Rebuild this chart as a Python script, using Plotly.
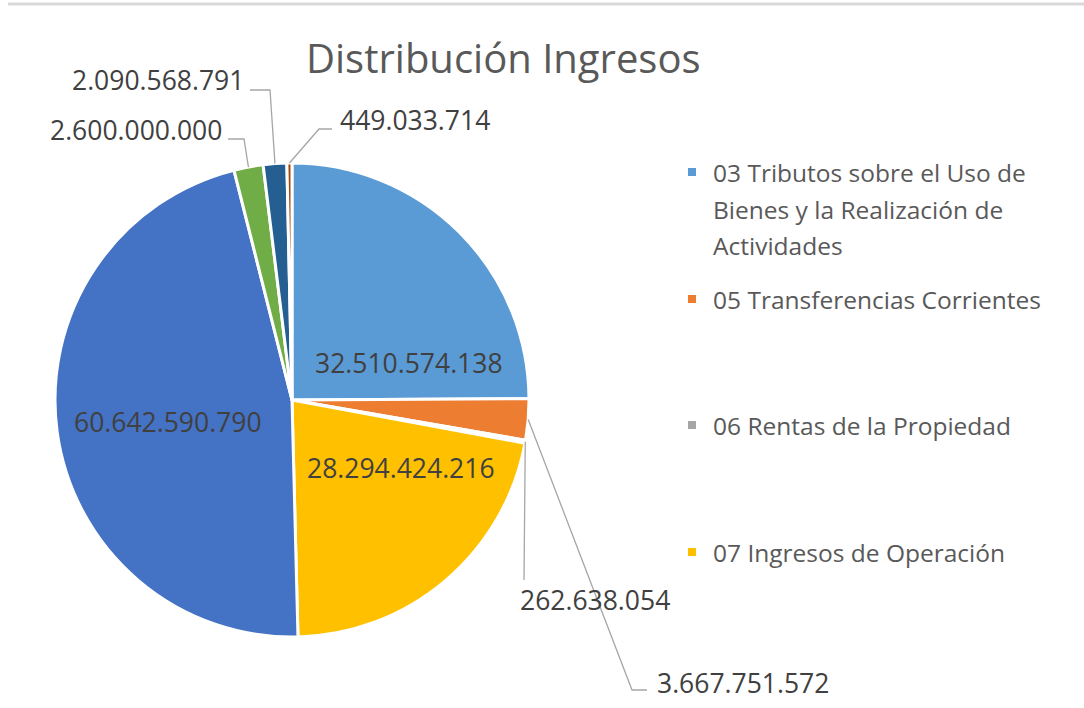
import math
import plotly.graph_objects as go

# ---------------- data ----------------
categories = [
    "03 Tributos sobre el Uso de Bienes y la Realización de Actividades",
    "05 Transferencias Corrientes",
    "06 Rentas de la Propiedad",
    "07 Ingresos de Operación",
    "Serie 5",
    "Serie 6",
    "Serie 7",
    "Serie 8",
]
values = [32510574138, 3667751572, 262638054, 28294424216,
          60642590790, 2600000000, 2090568791, 449033714]
colors = ["#5B9BD5", "#ED7D31", "#A5A5A5", "#FFC000",
          "#4472C4", "#70AD47", "#255E91", "#9E480E"]
legend_lines = [
    ["03 Tributos sobre el Uso de", "Bienes y la Realización de", "Actividades"],
    ["05 Transferencias Corrientes"],
    ["06 Rentas de la Propiedad"],
    ["07 Ingresos de Operación"],
]
title_text = "Distribución Ingresos"

# ---------------- layout (pixels) ----------------
W, H = 1084, 708
CX, CY, R = 292, 400, 237
label_pos = [(409, 363), (743, 683), (595, 600), (401, 468),
             (168, 422), (136, 130), (158, 80), (415, 120)]
leader_elbows = {
    1: [(632, 690), (647, 690)],
    2: [(524, 580)],
    5: [(244, 139), (228, 139)],
    6: [(270, 90), (250, 90)],
    7: [(319, 129), (332, 129)],
}
legend_y = [172, 299, 425, 552]
legend_line_gap = 37


def px(x):
    return x / W


def py(y):
    return 1 - y / H


def fmt(v):
    return f"{v:,}".replace(",", ".")


fig = go.Figure()
fig.add_trace(go.Pie(
    labels=categories, values=values, sort=False, direction="clockwise",
    rotation=0, textinfo="none", hoverinfo="label+value",
    marker=dict(colors=colors, line=dict(color="white", width=3)),
    domain=dict(x=[px(CX - R), px(CX + R)], y=[py(CY + R), py(CY - R)]),
    showlegend=False,
))

annotations = []
shapes = []

# value labels and leader lines
total = sum(values)
cum = 0.0
for i, v in enumerate(values):
    mid = (cum + v / 2) / total * 2 * math.pi
    cum += v
    lx, ly = label_pos[i]
    annotations.append(dict(
        x=px(lx), y=py(ly), xref="paper", yref="paper", text=fmt(v),
        showarrow=False, xanchor="center", yanchor="middle",
        font=dict(family="Open Sans", size=26.5, color="#404040"),
    ))
    if i in leader_elbows:
        sx = CX + R * math.sin(mid)
        sy = CY - R * math.cos(mid)
        pts = [(sx, sy)] + leader_elbows[i]
        path = "M " + " L ".join(f"{px(x):.5f},{py(y):.5f}" for x, y in pts)
        shapes.append(dict(type="path", path=path, xref="paper", yref="paper",
                           line=dict(color="#A6A6A6", width=1.3)))

# legend
for i, lines in enumerate(legend_lines):
    y0 = legend_y[i]
    shapes.append(dict(type="rect", xref="paper", yref="paper",
                       x0=px(688), x1=px(696), y0=py(y0 + 4), y1=py(y0 - 4),
                       fillcolor=colors[i], line=dict(width=0)))
    for k, t in enumerate(lines):
        annotations.append(dict(
            x=px(711), y=py(y0 + k * legend_line_gap), xref="paper", yref="paper",
            text=t, showarrow=False, xanchor="left", yanchor="middle",
            font=dict(family="Open Sans", size=24.5, color="#595959"),
        ))

# title
annotations.append(dict(
    x=px(503), y=py(58), xref="paper", yref="paper", text=title_text,
    showarrow=False, xanchor="center", yanchor="middle",
    font=dict(family="Open Sans", size=40, color="#595959"),
))

# top frame line
shapes.append(dict(type="line", xref="paper", yref="paper",
                   x0=px(8), x1=1, y0=py(4), y1=py(4),
                   line=dict(color="#D9D9D9", width=3)))

fig.update_layout(
    width=W, height=H, margin=dict(l=0, r=0, t=0, b=0),
    paper_bgcolor="white", plot_bgcolor="white",
    annotations=annotations, shapes=shapes, showlegend=False,
)
fig.write_html("out.html", config={"displayModeBar": False},
               post_script="document.body.style.margin='0';")
